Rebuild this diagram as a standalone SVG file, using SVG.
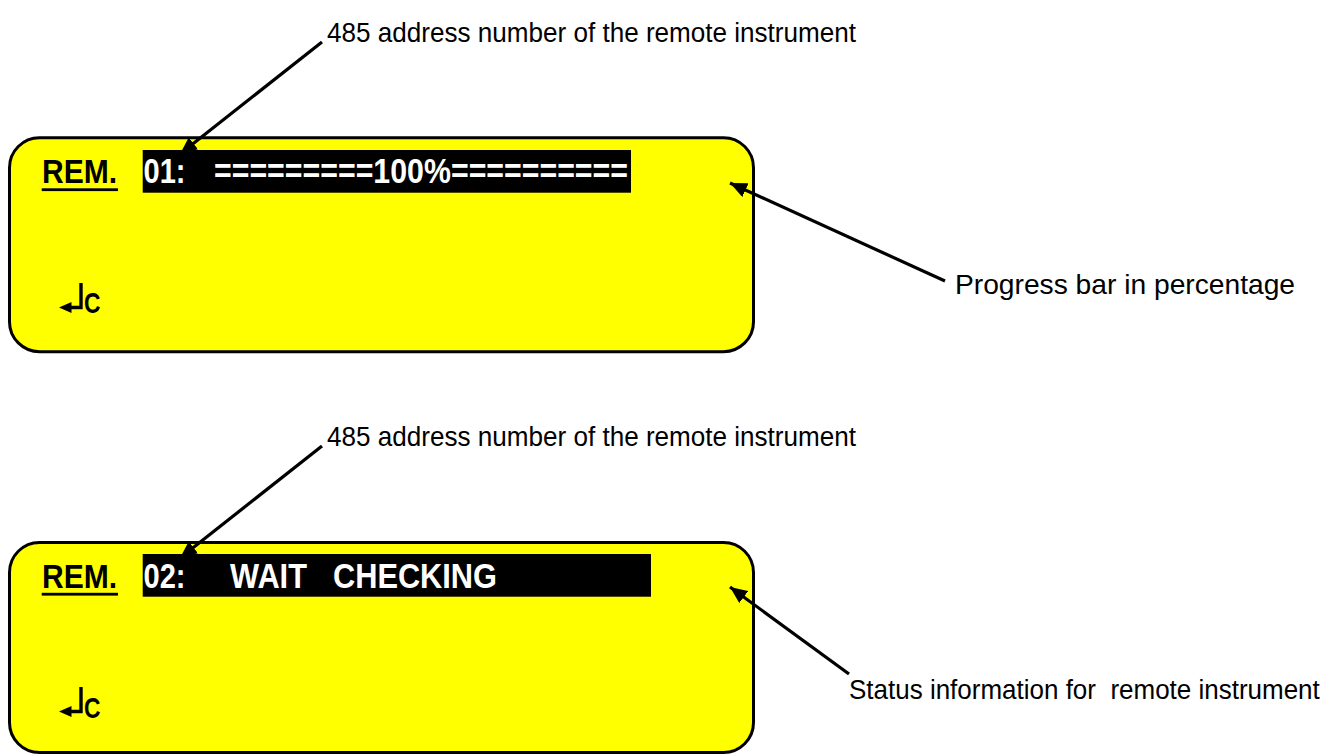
<svg xmlns="http://www.w3.org/2000/svg" width="1328" height="754" viewBox="0 0 1328 754">
<style>
.panel{fill:#FFFF00;stroke:#000;stroke-width:3}
.bar{fill:#000}
.lcd{font-family:"Liberation Sans",Arial,sans-serif;font-weight:bold;font-size:35px;fill:#fff}
.rem{font-family:"Liberation Sans",Arial,sans-serif;font-weight:bold;font-size:34px;fill:#000}
.c{font-family:"Liberation Sans",Arial,sans-serif;font-weight:bold;font-size:30px;fill:#000}
.note{font-family:"Liberation Sans",Arial,sans-serif;font-size:27.5px;fill:#000;white-space:pre}
.conn{stroke:#000;stroke-width:3.2;fill:none;marker-end:url(#ah)}
</style>
<defs>
<marker id="ah" markerUnits="userSpaceOnUse" markerWidth="20" markerHeight="16" refX="17" refY="7.5" orient="auto">
<path d="M0,0 L17,7.5 L0,15 Z" fill="#000"/>
</marker>
<g id="ret">
<polygon points="0,0 12.5,-5.5 12.5,5.5" fill="#000"/>
<polyline points="11,0 22,0 22,-24.5" fill="none" stroke="#000" stroke-width="3.4"/>
</g>
</defs>

<g id="display1">
<rect class="panel" x="9.5" y="137.7" width="744" height="214" rx="30" ry="30"/>
<text class="rem" x="42" y="183" textLength="75" lengthAdjust="spacingAndGlyphs">REM.</text>
<rect x="41.7" y="188.3" width="76.3" height="2.8" fill="#000"/>
<rect class="bar" x="142.7" y="150" width="488.3" height="42.7"/>
<text class="lcd" x="143.5" y="183" textLength="42" lengthAdjust="spacingAndGlyphs">01:</text>
<text class="lcd" x="214" y="183" textLength="414" lengthAdjust="spacingAndGlyphs">=========100%==========</text>
<use href="#ret" x="59" y="307.5"/>
<text class="c" x="84" y="313" textLength="16.5" lengthAdjust="spacingAndGlyphs">C</text>
</g>

<g id="display2">
<rect class="panel" x="9.5" y="542.5" width="744" height="210" rx="30" ry="30"/>
<text class="rem" x="42" y="587.5" textLength="75" lengthAdjust="spacingAndGlyphs">REM.</text>
<rect x="41.7" y="592.8" width="76.3" height="2.8" fill="#000"/>
<rect class="bar" x="142.7" y="554" width="508.3" height="42.7"/>
<text class="lcd" x="143.5" y="588" textLength="42" lengthAdjust="spacingAndGlyphs">02:</text>
<text class="lcd" x="230" y="588" textLength="77" lengthAdjust="spacingAndGlyphs">WAIT</text>
<text class="lcd" x="333" y="588" textLength="164" lengthAdjust="spacingAndGlyphs">CHECKING</text>
<use href="#ret" x="59" y="711.5"/>
<text class="c" x="84" y="717.5" textLength="16.5" lengthAdjust="spacingAndGlyphs">C</text>
</g>

<g id="label-address1">
<text class="note" x="327" y="41.5" textLength="529" lengthAdjust="spacingAndGlyphs">485 address number of the remote instrument</text>
</g>
<g id="label-progress">
<text class="note" x="955" y="293.5" textLength="340" lengthAdjust="spacingAndGlyphs">Progress bar in percentage</text>
</g>
<g id="label-address2">
<text class="note" x="327" y="445.5" textLength="529" lengthAdjust="spacingAndGlyphs">485 address number of the remote instrument</text>
</g>
<g id="label-status">
<text class="note" transform="translate(849,699) scale(0.945,1)" x="0" y="0">Status information for  remote instrument</text>
</g>

<g id="connectors">
<line class="conn" x1="322" y1="42" x2="180" y2="154"/>
<line class="conn" x1="945" y1="281" x2="730" y2="183"/>
<line class="conn" x1="322" y1="446" x2="180" y2="558"/>
<line class="conn" x1="849" y1="674" x2="730" y2="587"/>
</g>
</svg>
